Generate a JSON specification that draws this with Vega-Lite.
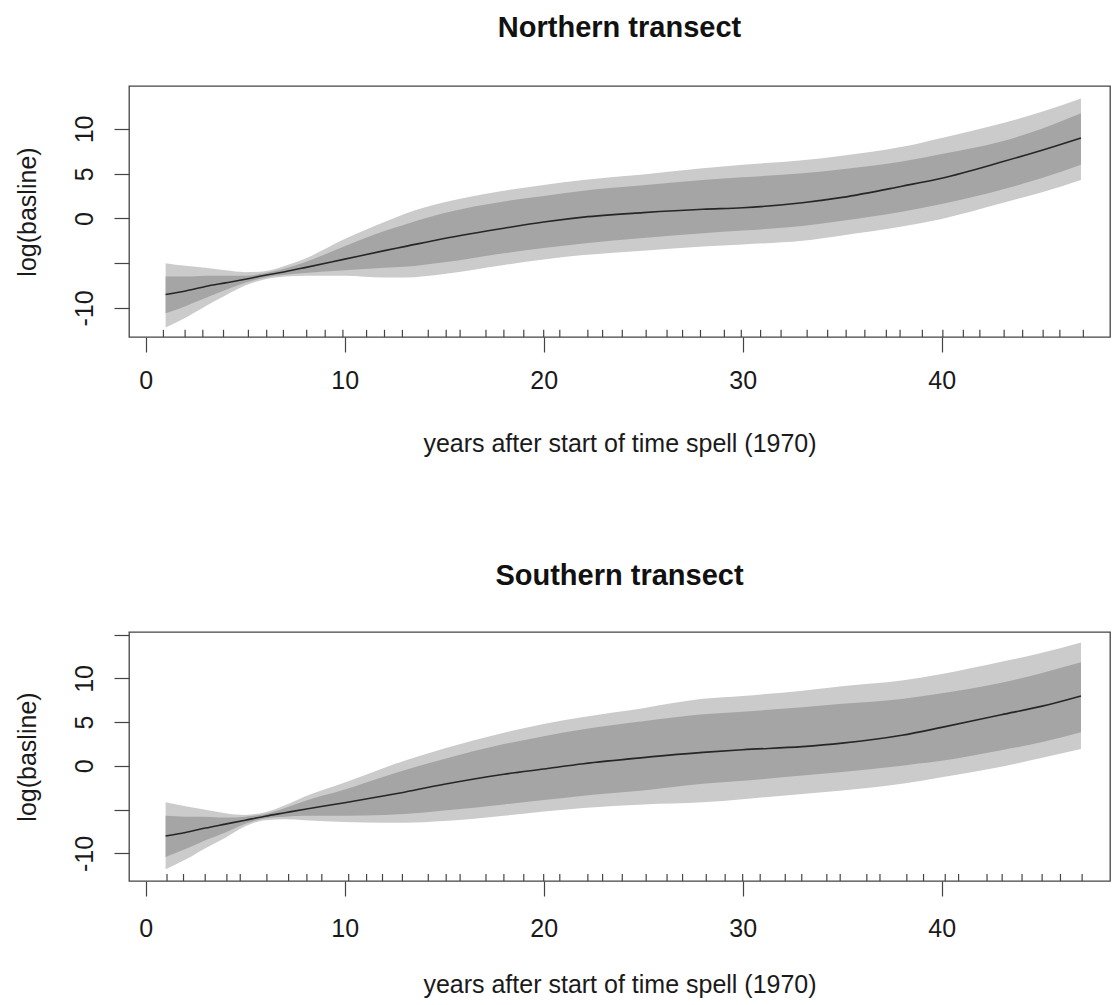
{
  "$schema": "https://vega.github.io/schema/vega-lite/v6.json",
  "background": "white",
  "padding": {"left": 14, "top": 13, "right": 3, "bottom": 0},
  "spacing": 104,
  "config": {
    "font": "Liberation Sans",
    "view": {"stroke": "#444444", "strokeWidth": 1.3},
    "axis": {
      "labelFont": "Liberation Sans",
      "titleFont": "Liberation Sans",
      "labelFontSize": 25,
      "titleFontSize": 25,
      "titleFontWeight": "normal",
      "labelColor": "#1a1a1a",
      "titleColor": "#1a1a1a",
      "tickColor": "#444444",
      "tickWidth": 1.2,
      "tickSize": 15,
      "grid": false,
      "domain": false,
      "labelOverlap": false,
      "labelFlush": false
    }
  },
  "datasets": {
    "north": [
      {"x": 1, "fit": -8.5, "lo1": -10.6, "hi1": -6.5, "lo2": -12.2, "hi2": -5.0},
      {"x": 2, "fit": -8.1, "lo1": -9.8, "hi1": -6.5, "lo2": -11.1, "hi2": -5.3},
      {"x": 3, "fit": -7.6, "lo1": -8.9, "hi1": -6.4, "lo2": -9.8, "hi2": -5.5},
      {"x": 4, "fit": -7.2, "lo1": -8.0, "hi1": -6.4, "lo2": -8.6, "hi2": -5.8},
      {"x": 5, "fit": -6.8, "lo1": -7.2, "hi1": -6.4, "lo2": -7.5, "hi2": -6.0},
      {"x": 6, "fit": -6.35, "lo1": -6.6, "hi1": -6.1, "lo2": -6.8, "hi2": -5.9},
      {"x": 7, "fit": -5.95, "lo1": -6.3, "hi1": -5.6, "lo2": -6.5, "hi2": -5.3},
      {"x": 8, "fit": -5.5, "lo1": -6.1, "hi1": -4.9, "lo2": -6.4, "hi2": -4.5},
      {"x": 10, "fit": -4.55, "lo1": -5.8, "hi1": -3.1, "lo2": -6.4, "hi2": -2.3},
      {"x": 12, "fit": -3.6, "lo1": -5.5, "hi1": -1.4, "lo2": -6.6, "hi2": -0.4},
      {"x": 13, "fit": -3.15, "lo1": -5.4, "hi1": -0.7, "lo2": -6.6, "hi2": 0.5},
      {"x": 15, "fit": -2.25, "lo1": -4.9, "hi1": 0.6, "lo2": -6.2, "hi2": 1.8},
      {"x": 18, "fit": -1.1, "lo1": -3.9, "hi1": 1.9, "lo2": -5.2, "hi2": 3.1},
      {"x": 20, "fit": -0.4, "lo1": -3.3, "hi1": 2.5, "lo2": -4.6, "hi2": 3.75},
      {"x": 22, "fit": 0.15, "lo1": -2.8, "hi1": 3.1, "lo2": -4.1, "hi2": 4.3},
      {"x": 25, "fit": 0.65, "lo1": -2.2, "hi1": 3.7, "lo2": -3.6, "hi2": 4.9},
      {"x": 28, "fit": 1.03, "lo1": -1.65, "hi1": 4.3, "lo2": -3.15, "hi2": 5.6},
      {"x": 30, "fit": 1.2, "lo1": -1.35, "hi1": 4.6, "lo2": -2.9, "hi2": 6.0},
      {"x": 33, "fit": 1.75, "lo1": -0.85, "hi1": 5.05, "lo2": -2.5, "hi2": 6.5},
      {"x": 35, "fit": 2.35, "lo1": -0.25, "hi1": 5.5, "lo2": -1.9, "hi2": 7.0},
      {"x": 38, "fit": 3.6, "lo1": 0.76, "hi1": 6.35, "lo2": -0.9, "hi2": 8.0},
      {"x": 40, "fit": 4.5, "lo1": 1.6, "hi1": 7.2, "lo2": -0.05, "hi2": 9.0},
      {"x": 43, "fit": 6.3, "lo1": 3.2, "hi1": 8.6, "lo2": 1.7, "hi2": 10.6},
      {"x": 45, "fit": 7.6, "lo1": 4.5, "hi1": 10.0, "lo2": 2.9, "hi2": 11.9},
      {"x": 47, "fit": 9.0, "lo1": 6.0, "hi1": 11.75, "lo2": 4.3, "hi2": 13.4}
    ],
    "south": [
      {"x": 1, "fit": -8.0, "lo1": -10.4, "hi1": -5.7, "lo2": -11.8, "hi2": -4.15},
      {"x": 2, "fit": -7.6, "lo1": -9.5, "hi1": -5.8, "lo2": -10.7, "hi2": -4.6},
      {"x": 3, "fit": -7.1, "lo1": -8.5, "hi1": -5.8, "lo2": -9.4, "hi2": -5.0},
      {"x": 4, "fit": -6.65, "lo1": -7.6, "hi1": -5.9, "lo2": -8.2, "hi2": -5.4},
      {"x": 5, "fit": -6.2, "lo1": -6.6, "hi1": -5.8, "lo2": -6.9, "hi2": -5.6},
      {"x": 6, "fit": -5.75, "lo1": -6.0, "hi1": -5.5, "lo2": -6.2, "hi2": -5.3},
      {"x": 7, "fit": -5.35, "lo1": -5.8, "hi1": -4.8, "lo2": -6.1, "hi2": -4.5},
      {"x": 8, "fit": -4.95, "lo1": -5.7, "hi1": -4.0, "lo2": -6.2, "hi2": -3.5},
      {"x": 10, "fit": -4.2, "lo1": -5.7, "hi1": -2.7, "lo2": -6.4, "hi2": -1.9},
      {"x": 12, "fit": -3.4, "lo1": -5.6, "hi1": -1.2, "lo2": -6.5, "hi2": -0.2},
      {"x": 13, "fit": -3.0, "lo1": -5.5, "hi1": -0.5, "lo2": -6.5, "hi2": 0.6},
      {"x": 15, "fit": -2.1, "lo1": -5.1, "hi1": 0.8, "lo2": -6.3, "hi2": 2.0},
      {"x": 18, "fit": -0.95, "lo1": -4.4, "hi1": 2.5, "lo2": -5.7, "hi2": 3.8},
      {"x": 20, "fit": -0.35, "lo1": -3.9, "hi1": 3.4, "lo2": -5.2, "hi2": 4.8},
      {"x": 22, "fit": 0.25, "lo1": -3.4, "hi1": 4.2, "lo2": -4.8, "hi2": 5.6},
      {"x": 25, "fit": 0.95, "lo1": -2.8, "hi1": 5.1, "lo2": -4.4, "hi2": 6.6},
      {"x": 28, "fit": 1.55, "lo1": -2.05, "hi1": 5.9, "lo2": -4.15, "hi2": 7.66},
      {"x": 30, "fit": 1.85, "lo1": -1.7, "hi1": 6.2, "lo2": -3.8, "hi2": 8.0},
      {"x": 33, "fit": 2.2, "lo1": -1.1, "hi1": 6.7, "lo2": -3.2, "hi2": 8.6},
      {"x": 35, "fit": 2.6, "lo1": -0.7, "hi1": 7.1, "lo2": -2.8, "hi2": 9.1},
      {"x": 38, "fit": 3.5, "lo1": 0.03, "hi1": 7.65, "lo2": -2.05, "hi2": 9.75},
      {"x": 40, "fit": 4.4, "lo1": 0.6, "hi1": 8.3, "lo2": -1.3, "hi2": 10.5},
      {"x": 43, "fit": 5.85, "lo1": 1.8, "hi1": 9.5, "lo2": -0.1, "hi2": 11.9},
      {"x": 45, "fit": 6.8, "lo1": 2.7, "hi1": 10.6, "lo2": 0.9, "hi2": 12.9},
      {"x": 47, "fit": 8.0, "lo1": 3.85, "hi1": 11.85, "lo2": 1.94, "hi2": 14.1}
    ],
    "rugN": [
      {"t": 0.89}, {"t": 1.98}, {"t": 2.87}, {"t": 3.91}, {"t": 5.16}, {"t": 6.08}, {"t": 6.92}, {"t": 8.09}, {"t": 9.02}, {"t": 9.91},
      {"t": 11.1}, {"t": 12.0}, {"t": 12.9}, {"t": 14.2}, {"t": 15.1}, {"t": 15.8}, {"t": 17.1}, {"t": 18.0}, {"t": 19.0}, {"t": 20.0},
      {"t": 20.81}, {"t": 22.22}, {"t": 22.96}, {"t": 23.95}, {"t": 25.15}, {"t": 26.2}, {"t": 26.98}, {"t": 27.88}, {"t": 29.08}, {"t": 29.93},
      {"t": 30.9}, {"t": 31.93}, {"t": 33.24}, {"t": 34.27}, {"t": 35.2}, {"t": 36.14}, {"t": 37.22}, {"t": 37.91}, {"t": 39.03}, {"t": 40.06},
      {"t": 41.09}, {"t": 41.92}, {"t": 43.14}, {"t": 44.07}, {"t": 45.1}, {"t": 45.94}, {"t": 47.12}
    ],
    "rugS": [
      {"t": 1.07}, {"t": 1.9}, {"t": 2.99}, {"t": 4.08}, {"t": 4.75}, {"t": 6.09}, {"t": 7.18}, {"t": 8.1}, {"t": 8.85}, {"t": 10.2},
      {"t": 11.1}, {"t": 11.9}, {"t": 12.9}, {"t": 14.2}, {"t": 15.1}, {"t": 15.8}, {"t": 17.1}, {"t": 18.0}, {"t": 19.0}, {"t": 20.0},
      {"t": 20.81}, {"t": 22.22}, {"t": 22.96}, {"t": 23.95}, {"t": 25.15}, {"t": 26.2}, {"t": 26.98}, {"t": 28.17}, {"t": 29.12}, {"t": 30.0},
      {"t": 30.88}, {"t": 32.14}, {"t": 32.97}, {"t": 34.23}, {"t": 34.9}, {"t": 36.24}, {"t": 36.9}, {"t": 38.25}, {"t": 39.09}, {"t": 40.18},
      {"t": 40.85}, {"t": 42.28}, {"t": 43.04}, {"t": 44.04}, {"t": 45.05}, {"t": 45.97}, {"t": 47.06}
    ]
  },
  "vconcat": [
    {
      "width": 981,
      "height": 251,
      "title": {"text": "Northern transect", "font": "Liberation Sans", "fontSize": 29, "fontWeight": "bold", "color": "#111111", "frame": "group", "anchor": "middle", "baseline": "alphabetic", "offset": 20},
      "layer": [
        {
          "data": {"name": "north"},
          "mark": {"type": "area", "interpolate": "monotone", "color": "#cbcbcb"},
          "encoding": {
            "x": {"field": "x", "type": "quantitative", "scale": {"domain": [-0.84, 48.46], "nice": false, "zero": false},
                  "axis": {"values": [0, 10, 20, 30, 40], "labelPadding": 36, "labelBaseline": "alphabetic", "title": "years after start of time spell (1970)", "titleY": 114, "titleBaseline": "alphabetic"}},
            "y": {"field": "lo2", "type": "quantitative", "scale": {"domain": [-13.25, 14.8], "nice": false, "zero": false},
                  "axis": {"values": [-10, -5, 0, 5, 10], "labelAngle": 270, "labelAlign": "center", "labelBaseline": "alphabetic", "labelPadding": 22,
                           "labelExpr": "datum.value == -5 || datum.value == 15 ? '' : toString(datum.value)",
                           "title": "log(basline)", "titleAngle": 270, "titleX": -94, "titleBaseline": "alphabetic", "titleAlign": "center"}},
            "y2": {"field": "hi2"}
          }
        },
        {
          "data": {"name": "north"},
          "mark": {"type": "area", "interpolate": "monotone", "color": "#a5a5a5"},
          "encoding": {
            "x": {"field": "x", "type": "quantitative"},
            "y": {"field": "lo1", "type": "quantitative"},
            "y2": {"field": "hi1"}
          }
        },
        {
          "data": {"name": "north"},
          "mark": {"type": "line", "interpolate": "monotone", "color": "#262626", "strokeWidth": 1.6},
          "encoding": {
            "x": {"field": "x", "type": "quantitative"},
            "y": {"field": "fit", "type": "quantitative"}
          }
        },
        {
          "data": {"name": "rugN"},
          "mark": {"type": "rule", "color": "#444444", "strokeWidth": 1.2},
          "encoding": {
            "x": {"field": "t", "type": "quantitative"},
            "y": {"datum": -13.25, "type": "quantitative"},
            "y2": {"datum": -12.45}
          }
        }
      ]
    },
    {
      "width": 981,
      "height": 249,
      "title": {"text": "Southern transect", "font": "Liberation Sans", "fontSize": 29, "fontWeight": "bold", "color": "#111111", "frame": "group", "anchor": "middle", "baseline": "alphabetic", "offset": 18},
      "layer": [
        {
          "data": {"name": "south"},
          "mark": {"type": "area", "interpolate": "monotone", "color": "#cbcbcb"},
          "encoding": {
            "x": {"field": "x", "type": "quantitative", "scale": {"domain": [-0.84, 48.46], "nice": false, "zero": false},
                  "axis": {"values": [0, 10, 20, 30, 40], "labelPadding": 40, "labelBaseline": "alphabetic", "title": "years after start of time spell (1970)", "titleY": 111, "titleBaseline": "alphabetic"}},
            "y": {"field": "lo2", "type": "quantitative", "scale": {"domain": [-13.15, 15.3], "nice": false, "zero": false},
                  "axis": {"values": [-10, -5, 0, 5, 10, 15], "labelAngle": 270, "labelAlign": "center", "labelBaseline": "alphabetic", "labelPadding": 22,
                           "labelExpr": "datum.value == -5 || datum.value == 15 ? '' : toString(datum.value)",
                           "title": "log(basline)", "titleAngle": 270, "titleX": -94, "titleBaseline": "alphabetic", "titleAlign": "center"}},
            "y2": {"field": "hi2"}
          }
        },
        {
          "data": {"name": "south"},
          "mark": {"type": "area", "interpolate": "monotone", "color": "#a5a5a5"},
          "encoding": {
            "x": {"field": "x", "type": "quantitative"},
            "y": {"field": "lo1", "type": "quantitative"},
            "y2": {"field": "hi1"}
          }
        },
        {
          "data": {"name": "south"},
          "mark": {"type": "line", "interpolate": "monotone", "color": "#262626", "strokeWidth": 1.6},
          "encoding": {
            "x": {"field": "x", "type": "quantitative"},
            "y": {"field": "fit", "type": "quantitative"}
          }
        },
        {
          "data": {"name": "rugS"},
          "mark": {"type": "rule", "color": "#444444", "strokeWidth": 1.2},
          "encoding": {
            "x": {"field": "t", "type": "quantitative"},
            "y": {"datum": -13.15, "type": "quantitative"},
            "y2": {"datum": -12.35}
          }
        }
      ]
    }
  ]
}
